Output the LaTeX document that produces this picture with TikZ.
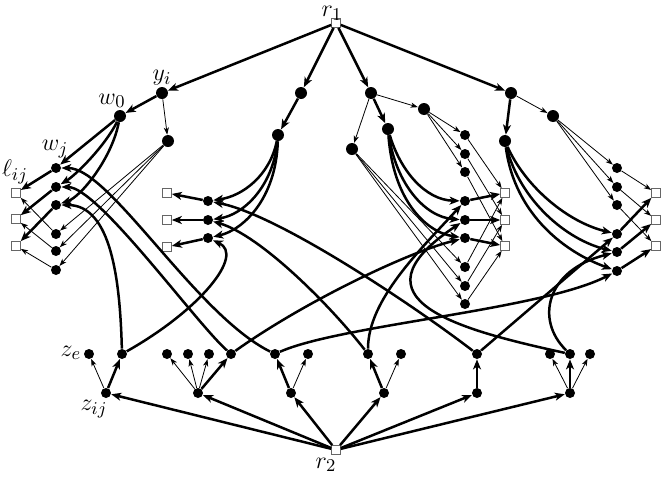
\documentclass[tikz,border=0pt]{standalone}
\usetikzlibrary{arrows.meta}
\begin{document}
\begin{tikzpicture}[x=0.5pt,y=-0.5pt,
  big/.style={circle,fill=black,inner sep=0pt,minimum size=6pt},
  dot/.style={circle,fill=black,inner sep=0pt,minimum size=5pt},
  sq/.style={rectangle,draw=black!60,fill=white,line width=0.45pt,inner sep=0pt,minimum size=4.4pt},
  thk/.style={line width=1.25pt,-{Stealth[length=5pt,width=4pt,inset=1.4pt]}},
  thn/.style={line width=0.4pt,-{Stealth[length=3.6pt,width=2.6pt,inset=1pt]}},
  lab/.style={inner sep=0pt,font=\fontsize{12.5}{14}\selectfont}
]
\useasboundingbox (0,0) rectangle (665,477);
% ---------- top part ----------
\node[sq] (r1) at (336,23) {};
\node[lab] (lr1) at (332,13.5) {$r_1$};
\node[big] (a1) at (162,93) {};
\node[big] (a2) at (301,93) {};
\node[big] (a3) at (371,93) {};
\node[big] (a4) at (511,93) {};
\node[lab] (lyi) at (162,78) {$y_i$};
% group 1
\node[big] (w0) at (120,116) {};
\node[lab] (lw0) at (112,101) {$w_0$};
\node[big] (c1) at (168,141) {};
\foreach \i/\y in {1/168,2/187,3/205} \node[dot] (w1\i) at (56,\y) {};
\foreach \i/\y in {1/234,2/251,3/270} \node[dot] (t1\i) at (56,\y) {};
\foreach \i/\y in {1/193,2/219,3/246} \node[sq] (s1\i) at (16,\y) {};
\node[lab] (lwj) at (55,149) {$w_j$};
\node[lab] (llij) at (15,172) {$\ell_{ij}$};
% group 2
\node[big] (b2) at (278,135) {};
\foreach \i/\y in {1/201,2/220,3/238} \node[dot] (g2\i) at (208,\y) {};
\foreach \i/\y in {1/193,2/220,3/247} \node[sq] (q2\i) at (167,\y) {};
% group 3
\node[big] (b3) at (388,129) {};
\node[big] (c3) at (352,149) {};
\node[big] (d3) at (424,109) {};
\foreach \i/\y in {1/135,2/154,3/172} \node[dot] (u3\i) at (465,\y) {};
\foreach \i/\y in {1/201,2/220,3/238} \node[dot] (g3\i) at (465,\y) {};
\foreach \i/\y in {1/267,2/286,3/304} \node[dot] (v3\i) at (465,\y) {};
\foreach \i/\y in {1/193,2/220,3/246} \node[sq] (q3\i) at (505,\y) {};
% group 4
\node[big] (b4) at (505,141) {};
\node[big] (d4) at (553,116) {};
\foreach \i/\y in {1/168,2/187,3/205} \node[dot] (u4\i) at (617,\y) {};
\foreach \i/\y in {1/234,2/252,3/271} \node[dot] (g4\i) at (617,\y) {};
\foreach \i/\y in {1/193,2/220,3/246} \node[sq] (q4\i) at (656,\y) {};
% ---------- bottom part ----------
\node[sq] (r2) at (336,450) {};
\node[lab] (lr2) at (326,465) {$r_2$};
\foreach \i/\x in {1/106,2/198,3/291,4/384,5/477,6/570} \node[dot] (R\i) at (\x,393) {};
\foreach \n/\x in {e11/89,e12/122,e21/167,e22/188,e23/209,e24/231,e31/275,e32/308,e41/368,e42/401,e51/477,e61/550,e62/570,e63/590}
  \node[dot] (\n) at (\x,354) {};
\node[lab] (lze) at (71,353) {$z_e$};
\node[lab] (lzij) at (94,409) {$z_{ij}$};

% ---------- edges: top ----------
\foreach \t in {a1,a2,a3,a4} \draw[thk] (r1) -- (\t);
\draw[thk] (a1) -- (w0);
\draw[thn] (a1) -- (c1);
\draw[thk] (a2) -- (b2);
\draw[thk] (a3) -- (b3);
\draw[thn] (a3) -- (c3);
\draw[thn] (a3) -- (d3);
\draw[thk] (a4) -- (b4);
\draw[thn] (a4) -- (d4);
% group 1
\draw[thk] (w0) -- (w11);
\draw[thk] (w0) .. controls +(-15,30) and +(20,-12) .. (w12);
\draw[thk] (w0) .. controls +(-8,42) and +(25,-8) .. (w13);
\foreach \i in {1,2,3} {
  \draw[thn] (c1) -- (t1\i);
  \draw[thk] (w1\i) -- (s1\i);
  \draw[thn] (t1\i) -- (s1\i);
}
% group 2
\draw[thk] (b2) .. controls +(-8,40) and +(35,-5) .. (g21);
\draw[thk] (b2) .. controls +(-5,52) and +(35,-5) .. (g22);
\draw[thk] (b2) .. controls +(-2,64) and +(35,-8) .. (g23);
\foreach \i in {1,2,3} \draw[thk] (g2\i) -- (q2\i);
% group 3
\draw[thk] (b3) .. controls +(12,41) and +(-40,-1) .. (g31);
\draw[thk] (b3) .. controls +(8,55) and +(-40,-3) .. (g32);
\draw[thk] (b3) .. controls +(5,70) and +(-40,-6) .. (g33);
\foreach \i in {1,2,3} {
  \draw[thn] (d3) -- (u3\i);
  \draw[thn] (c3) -- (v3\i);
  \draw[thn] (u3\i) -- (q3\i);
  \draw[thn] (v3\i) -- (q3\i);
  \draw[thk] (g3\i) -- (q3\i);
}
% group 4
\draw[thk] (b4) .. controls +(20,45) and +(-50,-12) .. (g41);
\draw[thk] (b4) .. controls +(15,60) and +(-50,-12) .. (g42);
\draw[thk] (b4) .. controls +(10,75) and +(-50,-18) .. (g43);
\foreach \i in {1,2,3} {
  \draw[thn] (d4) -- (u4\i);
  \draw[thn] (u4\i) -- (q4\i);
  \draw[thk] (g4\i) -- (q4\i);
}
% ---------- edges: bottom ----------
\foreach \i in {1,...,6} \draw[thk] (r2) -- (R\i);
\draw[thn] (R1) -- (e11);
\draw[thk] (R1) -- (e12);
\draw[thn] (R2) -- (e21);
\draw[thn] (R2) -- (e22);
\draw[thn] (R2) -- (e23);
\draw[thk] (R2) -- (e24);
\draw[thk] (R3) -- (e31);
\draw[thn] (R3) -- (e32);
\draw[thk] (R4) -- (e41);
\draw[thn] (R4) -- (e42);
\draw[thk] (R5) -- (e51);
\draw[thn] (R6) -- (e61);
\draw[thk] (R6) -- (e62);
\draw[thn] (R6) -- (e63);
% ---------- long connectors ----------
\draw[thk] (e31) .. controls +(-80,-40) and +(54,0) .. (w11);
\draw[thk] (e24) .. controls +(-36,-32) and +(42,0) .. (w12);
\draw[thk] (e12) .. controls +(-2,-75) and +(55,0) .. (w13);
\draw[thk] (e12) .. controls +(78,-44) and +(37,17) .. (g23);
\draw[thk] (e24) .. controls +(70,-50) and +(-60,15) .. (g33);
\draw[thk] (e31) .. controls +(65,-29) and +(-76,39) .. (g43);
\draw[thk] (e41) .. controls +(-38,-49) and +(52,15) .. (g22);
\draw[thk] (e41) .. controls +(0,-54) and +(-45,49) .. (g31);
\draw[thk] (e51) .. controls +(-57,-44) and +(72,14) .. (g21);
\draw[thk] (e51) -- (g41);
\draw[thk] (e62) .. controls +(-110,-24) and +(-120,80) .. (g32);
\draw[thk] (e62) .. controls +(-35,-34) and +(-71,18) .. (g42);
\end{tikzpicture}
\end{document}
